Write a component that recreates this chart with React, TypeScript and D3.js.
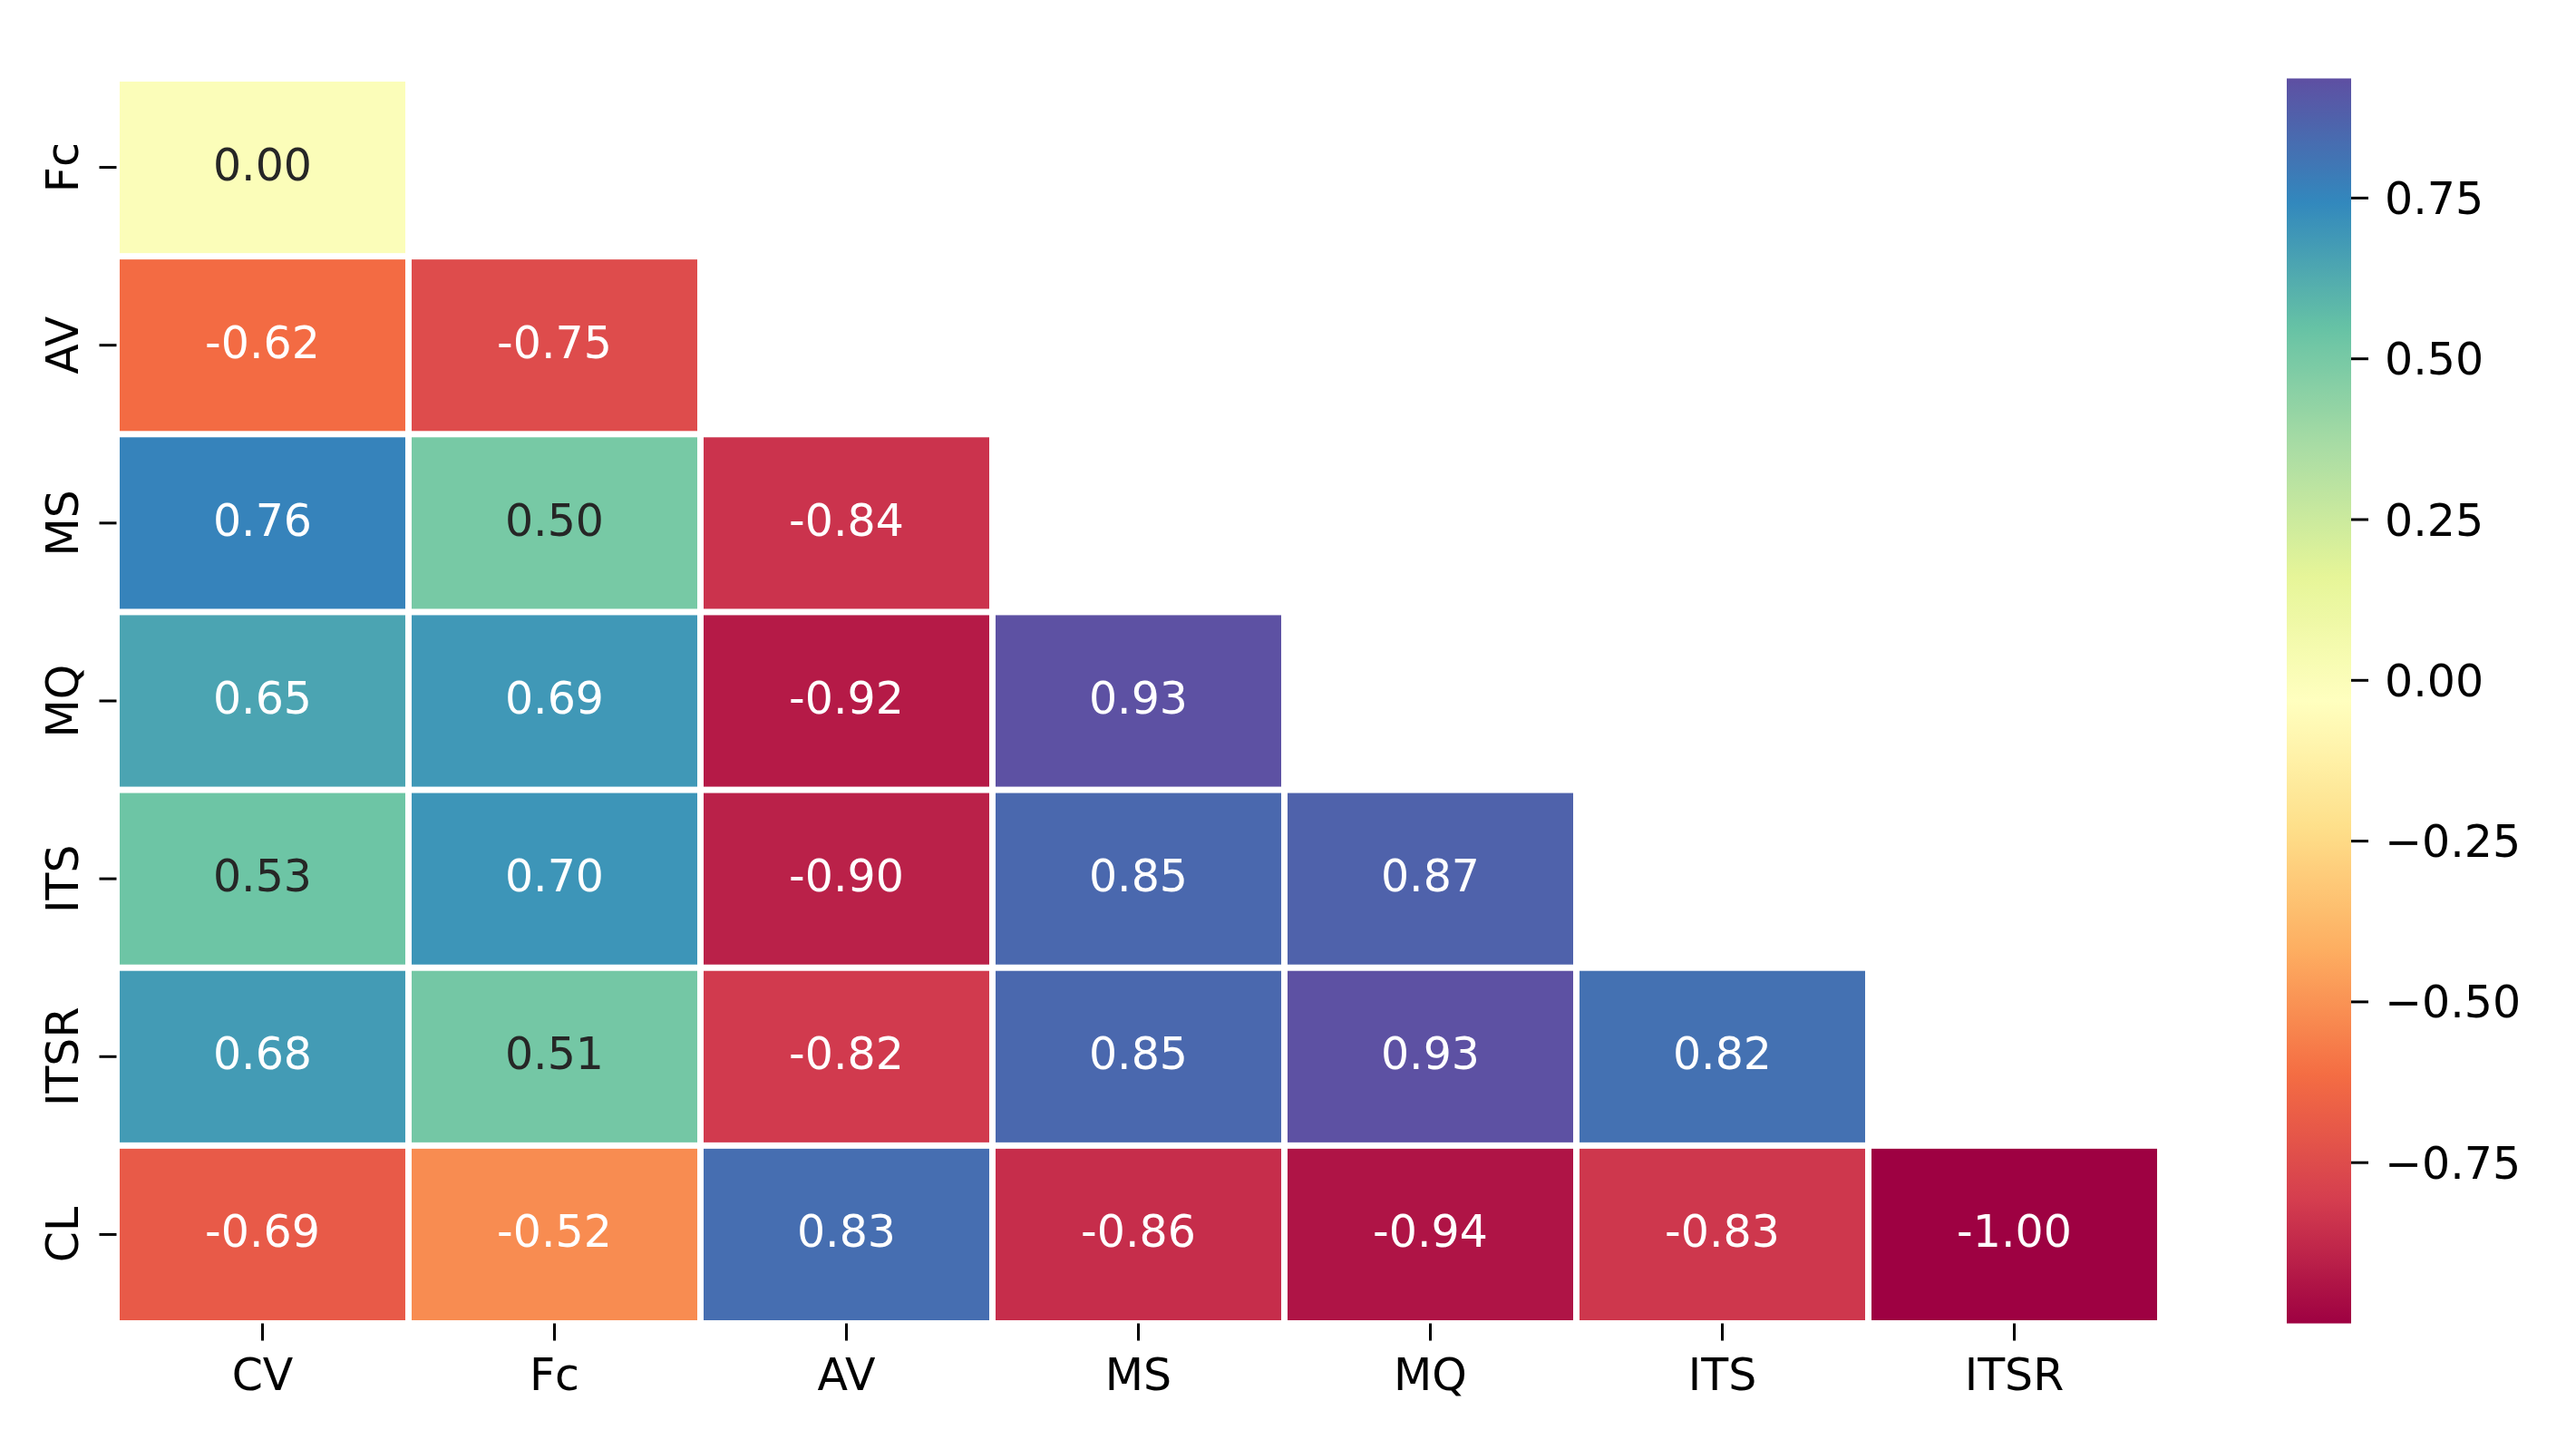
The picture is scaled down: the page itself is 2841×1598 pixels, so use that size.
import React from "react";
import * as d3 from "d3";

const rowLabels = ["Fc", "AV", "MS", "MQ", "ITS", "ITSR", "CL"];
const colLabels = ["CV", "Fc", "AV", "MS", "MQ", "ITS", "ITSR"];

const rowFc = [0.0];
const rowAV = [-0.62, -0.75];
const rowMS = [0.76, 0.5, -0.84];
const rowMQ = [0.65, 0.69, -0.92, 0.93];
const rowITS = [0.53, 0.7, -0.9, 0.85, 0.87];
const rowITSR = [0.68, 0.51, -0.82, 0.85, 0.93, 0.82];
const rowCL = [-0.69, -0.52, 0.83, -0.86, -0.94, -0.83, -1.0];
const matrix = [rowFc, rowAV, rowMS, rowMQ, rowITS, rowITSR, rowCL];

const colorbarTicks = [-0.75, -0.5, -0.25, 0.0, 0.25, 0.5, 0.75];
const vmin = -1.0;
const vmax = 0.936;

const spectral = [
  "#9e0142", "#d53e4f", "#f46d43", "#fdae61", "#fee08b", "#ffffbf",
  "#e6f598", "#abdda4", "#66c2a5", "#3288bd", "#5e4fa2",
];

const W = 2841;
const H = 1598;
const AX_L = 128.5;
const AX_R = 2382.5;
const AX_T = 86.5;
const AX_B = 1459.5;
const LW = 7;
const FONT = "'DejaVu Sans', sans-serif";
const FS = 49;

const CB_L = 2522;
const CB_R = 2593;

function luminance(c: string) {
  const rgb = d3.rgb(c);
  const f = (v: number) => {
    const s = v / 255;
    return s <= 0.03928 ? s / 12.92 : Math.pow((s + 0.055) / 1.055, 2.4);
  };
  return 0.2126 * f(rgb.r) + 0.7152 * f(rgb.g) + 0.0722 * f(rgb.b);
}

export default function App() {
  const x = d3.scaleBand<string>().domain(colLabels).range([AX_L, AX_R]);
  const y = d3.scaleBand<string>().domain(rowLabels).range([AX_T, AX_B]);
  const color = d3
    .scaleLinear<string>()
    .domain(spectral.map((_, i) => vmin + (i / (spectral.length - 1)) * (vmax - vmin)))
    .range(spectral)
    .interpolate(d3.interpolateRgb)
    .clamp(true);
  const cb = d3.scaleLinear().domain([vmin, vmax]).range([AX_B, AX_T]);
  const fmt = (v: number) => v.toFixed(2);
  const tickFmt = (v: number) => v.toFixed(2).replace("-", "\u2212");

  const cells: any[] = [];
  matrix.forEach((row, ri) => {
    row.forEach((v, ci) => {
      cells.push({ r: rowLabels[ri], c: colLabels[ci], v });
    });
  });

  const nStops = 60;
  const stops = d3.range(nStops + 1).map((i) => {
    const t = i / nStops;
    return { off: t, col: color(vmin + t * (vmax - vmin)) };
  });

  return (
    <svg
      width={W}
      height={H}
      style={{ position: "absolute", left: 0, top: 0, background: "#fff" }}
      fontFamily={FONT}
    >
      <defs>
        <linearGradient id="cbg" x1="0" y1="1" x2="0" y2="0">
          {stops.map((s, i) => (
            <stop key={i} offset={s.off} stopColor={s.col} />
          ))}
        </linearGradient>
      </defs>
      <rect x={0} y={0} width={W} height={H} fill="#fff" />
      {cells.map((d, i) => {
        const fill = color(d.v);
        const txtCol = luminance(fill) > 0.408 ? "#262626" : "#ffffff";
        const cx = (x(d.c) as number) + x.bandwidth() / 2;
        const cy = (y(d.r) as number) + y.bandwidth() / 2;
        return (
          <g key={i}>
            <rect
              x={(x(d.c) as number) + LW / 2}
              y={(y(d.r) as number) + LW / 2}
              width={x.bandwidth() - LW}
              height={y.bandwidth() - LW}
              fill={fill}
            />
            <text
              x={cx}
              y={cy + 14}
              textAnchor="middle"
              fontSize={FS}
              fill={txtCol}
            >
              {fmt(d.v)}
            </text>
          </g>
        );
      })}
      {rowLabels.map((r) => {
        const cy = (y(r) as number) + y.bandwidth() / 2;
        return (
          <g key={"y" + r}>
            <line x1={AX_L - 19} x2={AX_L} y1={cy} y2={cy} stroke="#000" strokeWidth={3} />
            <text
              transform={`translate(86,${cy}) rotate(-90)`}
              textAnchor="middle"
              fontSize={FS}
              fill="#000"
            >
              {r}
            </text>
          </g>
        );
      })}
      {colLabels.map((c) => {
        const cx = (x(c) as number) + x.bandwidth() / 2;
        return (
          <g key={"x" + c}>
            <line x1={cx} x2={cx} y1={AX_B} y2={AX_B + 19} stroke="#000" strokeWidth={3} />
            <text x={cx} y={1533} textAnchor="middle" fontSize={FS} fill="#000">
              {c}
            </text>
          </g>
        );
      })}
      <rect x={CB_L} y={AX_T} width={CB_R - CB_L} height={AX_B - AX_T} fill="url(#cbg)" />
      {colorbarTicks.map((t) => (
        <g key={"cb" + t}>
          <line x1={CB_R} x2={CB_R + 19} y1={cb(t)} y2={cb(t)} stroke="#000" strokeWidth={3} />
          <text x={2630} y={cb(t) + 17.5} fontSize={FS} fill="#000">
            {tickFmt(t)}
          </text>
        </g>
      ))}
    </svg>
  );
}
